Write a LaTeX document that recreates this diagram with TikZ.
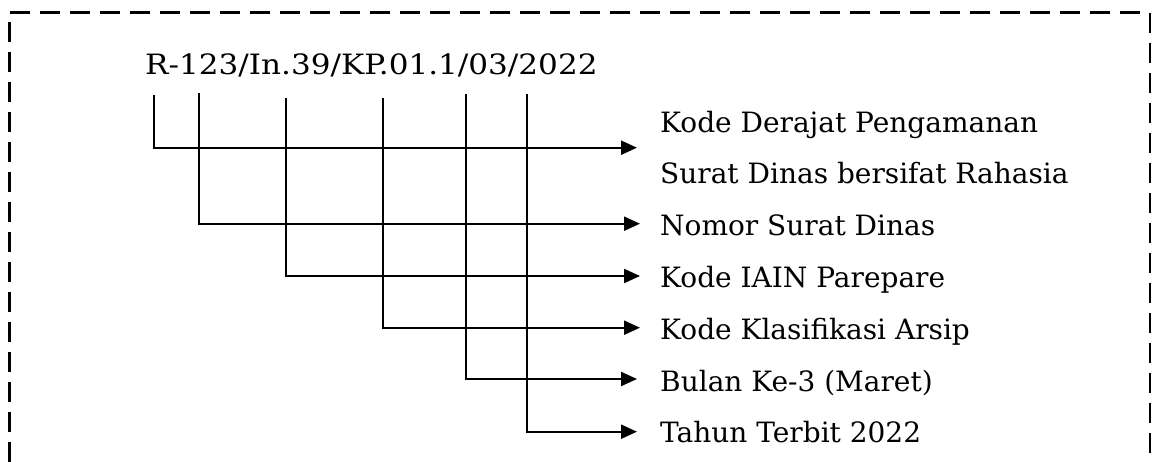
\documentclass[tikz,border=0pt]{standalone}
\usepackage{fontspec}
\setmainfont{DejaVu Serif}
\usetikzlibrary{arrows.meta}
\begin{document}
\begin{tikzpicture}[x=1pt,y=-1pt,
  conn/.style={line width=2.2pt, -{Triangle[length=16pt,width=14pt]}},
  lbl/.style={inner sep=0pt, anchor=base west, font=\fontsize{28}{50.3}\selectfont, align=left},
  frame/.style={line width=2.6pt, dash pattern=on 20pt off 10pt}]
\useasboundingbox (0,0) rectangle (1154,462);
\draw[frame] (9.5,462) -- (9.5,12.7) -- (1150,12.7) -- (1150,462);
\node[lbl] (code) at (145,74.3) {\scalebox{1.11}[1]{R-123/In.39/KP.01.1/03/2022}};
\coordinate (t1) at (154,95);
\coordinate (t2) at (199,93);
\coordinate (t3) at (286,98);
\coordinate (t4) at (383,98);
\coordinate (t5) at (466,94);
\coordinate (t6) at (527.3,94);
\node[lbl] (l1) at (660,183.3) {Kode Derajat Pengamanan\\Surat Dinas bersifat Rahasia};
\node[lbl] (l2) at (660,236) {Nomor Surat Dinas};
\node[lbl] (l3) at (660,287.7) {Kode IAIN Parepare};
\node[lbl] (l4) at (660,339) {Kode Klasifikasi Arsip};
\node[lbl] (l5) at (660,391.7) {Bulan Ke-3 (Maret)};
\node[lbl] (l6) at (660,442.7) {Tahun Terbit 2022};
\draw[conn] (t1) |- ([xshift=-23pt,yshift=35.6pt]l1.base west);
\draw[conn] (t2) |- ([xshift=-20pt,yshift=12.3pt]l2.base west);
\draw[conn] (t3) |- ([xshift=-20pt,yshift=11.7pt]l3.base west);
\draw[conn] (t4) |- ([xshift=-20pt,yshift=11.3pt]l4.base west);
\draw[conn] (t5) |- ([xshift=-23pt,yshift=12.7pt]l5.base west);
\draw[conn] (t6) |- ([xshift=-23pt,yshift=11pt]l6.base west);
\end{tikzpicture}
\end{document}
